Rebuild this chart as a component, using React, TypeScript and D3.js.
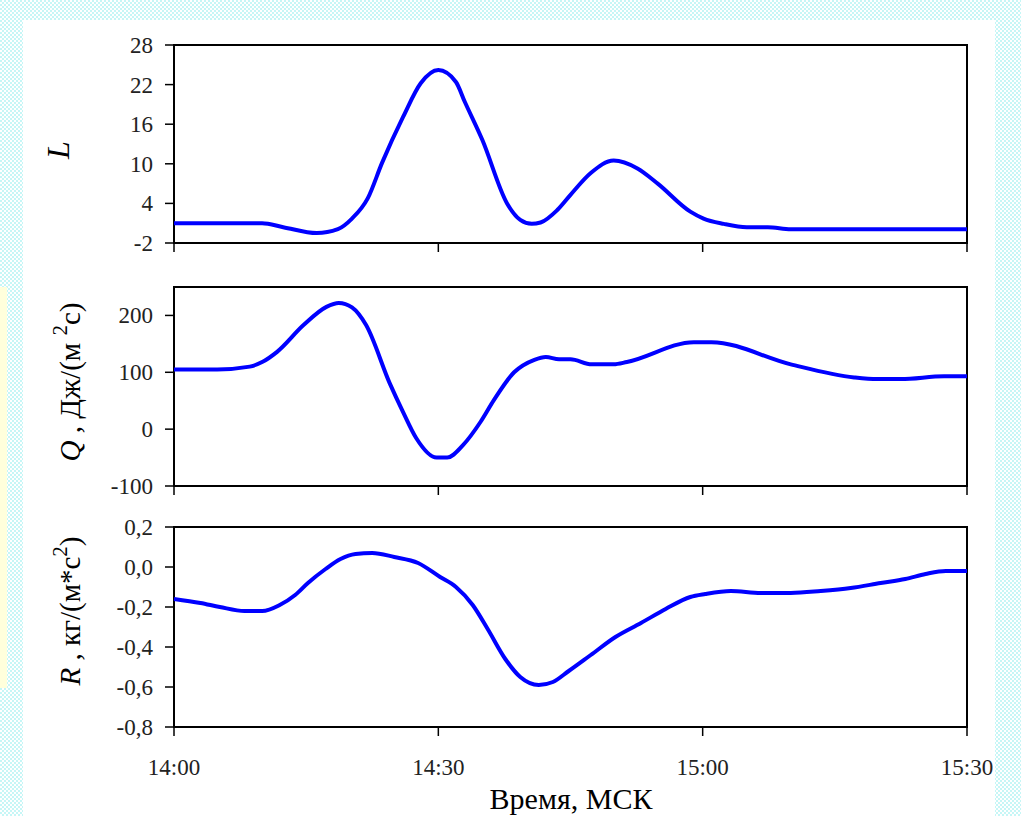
import * as d3 from 'd3'

// minutes after 14:00
const TIME_TICKS = [0, 30, 60, 90]
const TIME_LABELS = ['14:00', '14:30', '15:00', '15:30']

const L_MIN = [0, 10, 12.4, 16.2, 18.6, 20.2, 22, 23.6, 26, 28, 30, 32, 33, 35, 37.8, 39.3, 40.6, 41.6, 43.5, 45, 47.3, 49.9, 52.6, 54.9, 58.6, 60.1, 62.4, 65, 67.4, 70, 90]
const L_VAL = [1, 1, 0.4, -0.5, 0.1, 1.7, 4.8, 10.1, 17.1, 22.2, 24.2, 22.4, 19.4, 13.6, 4.0, 1.5, 0.9, 1.1, 3.0, 5.3, 8.6, 10.5, 9.3, 7.0, 2.75, 1.7, 0.9, 0.4, 0.4, 0.1, 0.1]
const L_TICKS = [28, 22, 16, 10, 4, -2]

const Q_MIN = [0, 4.9, 8.6, 10, 11.7, 14.7, 17.3, 18.7, 20.2, 21.8, 24.5, 26, 27.5, 29.8, 31, 32.8, 34.8, 36.3, 38.6, 40.9, 42.2, 43.7, 45, 47.4, 49.9, 51.4, 59, 61, 70, 77.2, 79.8, 82.5, 87.4, 90]
const Q_VAL = [105, 105, 110, 118, 136, 183, 215, 222, 214, 183, 80, 30, -16, -50, -50, -28, 13, 51, 100, 122, 127, 123, 123, 114, 114, 118, 153, 153, 114, 91, 88, 88, 93, 93]
const Q_TICKS = [200, 100, 0, -100]

const R_MIN = [0, 3, 5.2, 8, 10, 12, 13.75, 15.2, 17.2, 18.9, 20.6, 22.5, 25, 27.7, 30.2, 32, 33.9, 35.6, 37.6, 39.3, 41.4, 43, 44.8, 47.3, 50.1, 53, 55.8, 58.6, 60.3, 63.2, 66.6, 70, 73.4, 76.8, 80.2, 83, 85.3, 87.6, 90]
const R_VAL = [-0.16, -0.18, -0.2, -0.22, -0.22, -0.19, -0.14, -0.08, -0.01, 0.04, 0.065, 0.07, 0.05, 0.02, -0.05, -0.1, -0.19, -0.31, -0.46, -0.55, -0.59, -0.575, -0.52, -0.44, -0.35, -0.28, -0.21, -0.15, -0.135, -0.12, -0.13, -0.13, -0.12, -0.105, -0.08, -0.06, -0.035, -0.02, -0.02]
const R_TICKS = [0.2, 0, -0.2, -0.4, -0.6, -0.8]

const W = 1021
const H = 816
const LEFT = 174
const RIGHT = 967
const FONT = '"Liberation Serif", "Times New Roman", serif'

const x = d3.scaleLinear().domain([0, 90]).range([LEFT, RIGHT])

const fmtComma = (v: number) => d3.format('.1f')(v).replace('.', ',').replace('−', '-')

function Panel({ minutes, values, ticks, domain, top, bottom, fmt, showTimeLabels }: any) {
  const y = d3.scaleLinear().domain(domain).range([bottom, top])
  const pts = minutes.map((m: number, i: number) => [m, values[i]])
  const line = d3.line<number[]>()
    .x(d => x(d[0]))
    .y(d => y(d[1]))
    .curve(d3.curveMonotoneX)

  return (
    <g>
      <rect x={LEFT} y={top} width={RIGHT - LEFT} height={bottom - top}
        fill="white" stroke="#000" strokeWidth={2} />
      {ticks.map((t: number) => (
        <g key={t} transform={`translate(0, ${y(t)})`}>
          <line x1={LEFT - 9} x2={LEFT} stroke="#000" strokeWidth={1.5} />
          <text x={LEFT - 21} dy="0.35em" textAnchor="end" fontSize={23}
            fontFamily={FONT} fill="#222">{fmt(t)}</text>
        </g>
      ))}
      {TIME_TICKS.map((t, i) => (
        <g key={t} transform={`translate(${x(t)}, ${bottom})`}>
          <line y1={0} y2={9} stroke="#000" strokeWidth={1.5} />
          {showTimeLabels && (
            <text y={48} textAnchor="middle" fontSize={23}
              fontFamily={FONT} fill="#222">{TIME_LABELS[i]}</text>
          )}
        </g>
      ))}
      <path d={line(pts) || ''} fill="none" stroke="#0000ff" strokeWidth={4}
        strokeLinejoin="round" />
    </g>
  )
}

export default function App() {
  return (
    <svg width={W} height={H} style={{ position: 'absolute', left: 0, top: 0, display: 'block' }}>
      <defs>
        <pattern id="dots" width={4} height={4} patternUnits="userSpaceOnUse">
          <rect width={4} height={4} fill="#ffffff" />
          <rect x={0} y={0} width={2} height={2} fill="#c6f6f6" />
          <rect x={2} y={2} width={2} height={2} fill="#c6f6f6" />
        </pattern>
      </defs>
      <rect width={W} height={H} fill="url(#dots)" />
      <rect x={23} y={20} width={972} height={H - 20} fill="#ffffff" />
      <rect x={0} y={287} width={7} height={401} fill="#ffffdc" />

      <Panel minutes={L_MIN} values={L_VAL} ticks={L_TICKS} domain={[-2, 28]}
        top={45} bottom={243} fmt={(v: number) => String(v)} />
      <Panel minutes={Q_MIN} values={Q_VAL} ticks={Q_TICKS} domain={[-100, 250]}
        top={287} bottom={486} fmt={(v: number) => String(v)} />
      <Panel minutes={R_MIN} values={R_VAL} ticks={R_TICKS} domain={[-0.8, 0.2]}
        top={527} bottom={727} fmt={fmtComma} showTimeLabels />

      {/* axis titles */}
      <text transform="translate(69, 150) rotate(-90)" textAnchor="middle"
        fontSize={32} fontFamily={FONT} fontStyle="italic" fill="#000">L</text>
      <text transform="translate(80, 382) rotate(-90)" textAnchor="middle"
        fontSize={29} fontFamily={FONT} fill="#000">
        <tspan fontStyle="italic">Q</tspan>
        <tspan fontStyle="normal"> , Дж/(м </tspan>
        <tspan fontSize={21} dy={-13}>2</tspan>
        <tspan dy={13}>с)</tspan>
      </text>
      <text transform="translate(80, 611) rotate(-90)" textAnchor="middle"
        fontSize={29} fontFamily={FONT} fill="#000">
        <tspan fontStyle="italic">R</tspan>
        <tspan fontStyle="normal"> , кг/(м*с</tspan>
        <tspan fontSize={21} dy={-13}>2</tspan>
        <tspan dy={13}>)</tspan>
      </text>
      <text x={571} y={809} textAnchor="middle" fontSize={30} fontFamily={FONT} fill="#000">
        Время, МСК
      </text>
    </svg>
  )
}
